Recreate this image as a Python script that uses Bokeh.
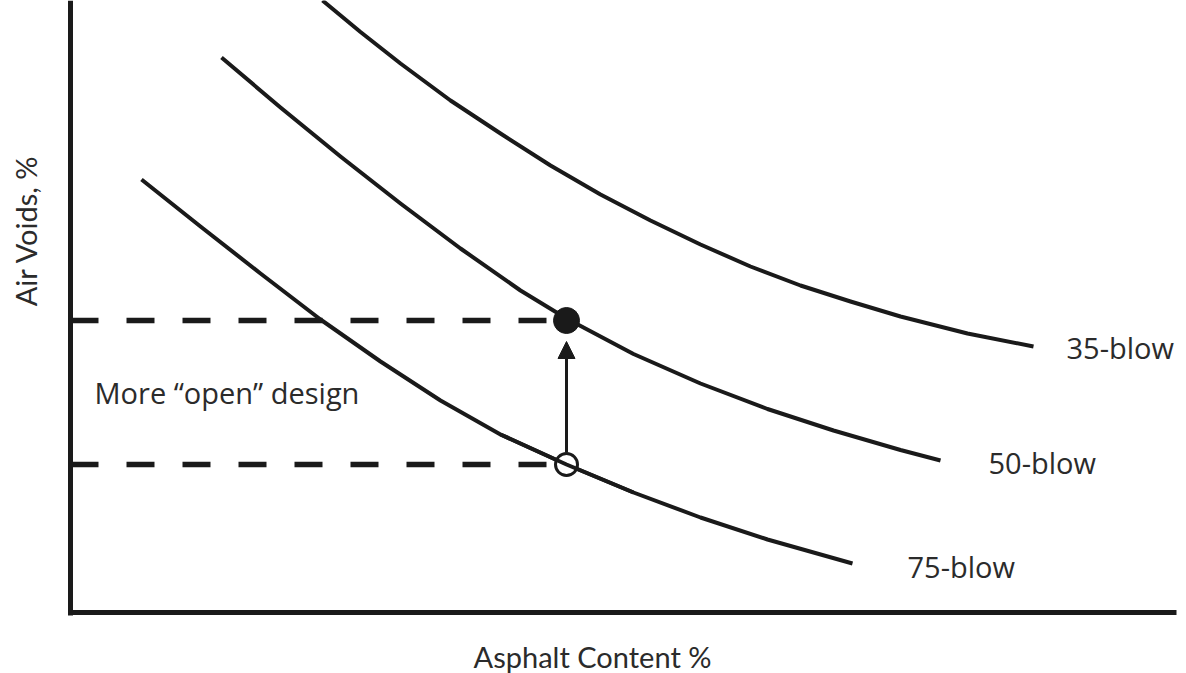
from bokeh.plotting import figure
from bokeh.models import Range1d, FixedTicker, LinearAxis, Arrow, NormalHead, ColumnDataSource
from bokeh.core.properties import value
from bokeh.embed import file_html
from bokeh.resources import INLINE

# ---- data (arbitrary units) ----
x35 = [2.52, 2.90, 3.30, 3.80, 4.30, 4.80, 5.30, 5.80, 6.30, 6.80, 7.30, 7.80, 8.30, 8.97, 9.63]
y35 = [6.12, 5.805, 5.49, 5.12, 4.79, 4.47, 4.18, 3.92, 3.68, 3.46, 3.27, 3.11, 2.96, 2.79, 2.66]

x50 = [1.51, 2.10, 2.70, 3.30, 3.90, 4.50, 4.96, 5.63, 6.30, 6.97, 7.63, 8.30, 8.70]
y50 = [5.55, 5.05, 4.56, 4.09, 3.64, 3.22, 2.94, 2.585, 2.29, 2.035, 1.82, 1.625, 1.52]

x75 = [0.71, 1.30, 1.90, 2.50, 3.10, 3.70, 4.30, 4.96, 5.63, 6.30, 6.97, 7.82]
y75 = [4.33, 3.86, 3.39, 2.93, 2.51, 2.12, 1.78, 1.48, 1.20, 0.95, 0.73, 0.49]

design_x = 4.96          # asphalt content of the design point
voids_50 = 2.92          # air voids, 50-blow design (filled dot)
voids_75 = 1.48          # air voids, 75-blow at same content (open circle)

curve_names = ["35-blow", "50-blow", "75-blow"]

INK = "#1a1a1a"
TXT = "#2b2b2b"

p = figure(width=1186, height=673, output_backend="svg", toolbar_location=None,
           x_range=Range1d(-0.70, 11.16), y_range=Range1d(-0.61, 6.12),
           x_axis_location=None, y_axis_location=None,
           min_border=0, min_border_left=0, min_border_right=0,
           min_border_top=0, min_border_bottom=0)
p.background_fill_color = "white"
p.border_fill_color = "white"
p.outline_line_color = None
p.grid.visible = False

xax = LinearAxis(fixed_location=0, ticker=FixedTicker(ticks=[]), bounds=(-0.025, 11.06))
yax = LinearAxis(fixed_location=0, ticker=FixedTicker(ticks=[]), bounds=(-0.025, 6.12))
for ax in (xax, yax):
    ax.major_tick_line_color = None
    ax.minor_tick_line_color = None
    ax.axis_line_color = INK
    ax.axis_line_width = 5
    ax.major_label_text_font_size = "0px"
p.add_layout(xax, "below")
p.add_layout(yax, "left")

# curves
for xs, ys in ((x35, y35), (x50, y50), (x75, y75)):
    p.line(xs, ys, line_color=INK, line_width=4, line_cap="butt", line_join="round")

# dashed guide lines
p.line([0, design_x - 0.20], [voids_50, voids_50], line_color=INK, line_width=5.5, line_dash="28 28")
p.line([0, design_x - 0.20], [voids_75, voids_75], line_color=INK, line_width=5.5, line_dash="28 28")

# arrow from open circle to filled dot
p.add_layout(Arrow(end=NormalHead(size=17, fill_color=INK, line_color=INK, line_width=1),
                   x_start=design_x, y_start=voids_75 + 0.12,
                   x_end=design_x, y_end=voids_50 - 0.21,
                   line_color=INK, line_width=3))

p.scatter([design_x], [voids_50], size=26, marker="circle", fill_color=INK, line_color=INK)
p.scatter([design_x], [voids_75], size=22, marker="circle", fill_color="white",
          line_color=INK, line_width=3)
p.line(x75[6:9], y75[6:9], line_color=INK, line_width=4)

# texts
src = ColumnDataSource(dict(x=[9.96, 9.18, 8.37], y=[2.65, 1.50, 0.46], t=curve_names))
p.text(x="x", y="y", text="t", source=src, text_font=value("Open Sans"),
       text_font_size="29px", text_color=TXT, text_baseline="middle", text_align="left")
p.text(x=[0.24], y=[2.20], text=["More \u201copen\u201d design"], text_font=value("Open Sans"),
       text_font_size="29px", text_color=TXT, text_baseline="middle", text_align="left")

p.text(x=[5.22], y=[-0.44], text=["Asphalt Content %"], text_font=value("Lato"),
       text_font_size="29px", text_color=TXT, text_baseline="middle", text_align="center")
p.text(x=[-0.45], y=[3.82], text=["Air Voids, %"], angle=90, angle_units="deg",
       text_font=value("Lato"), text_font_size="29px", text_color=TXT,
       text_baseline="middle", text_align="center")

open("out.html", "w").write(file_html(p, INLINE))
